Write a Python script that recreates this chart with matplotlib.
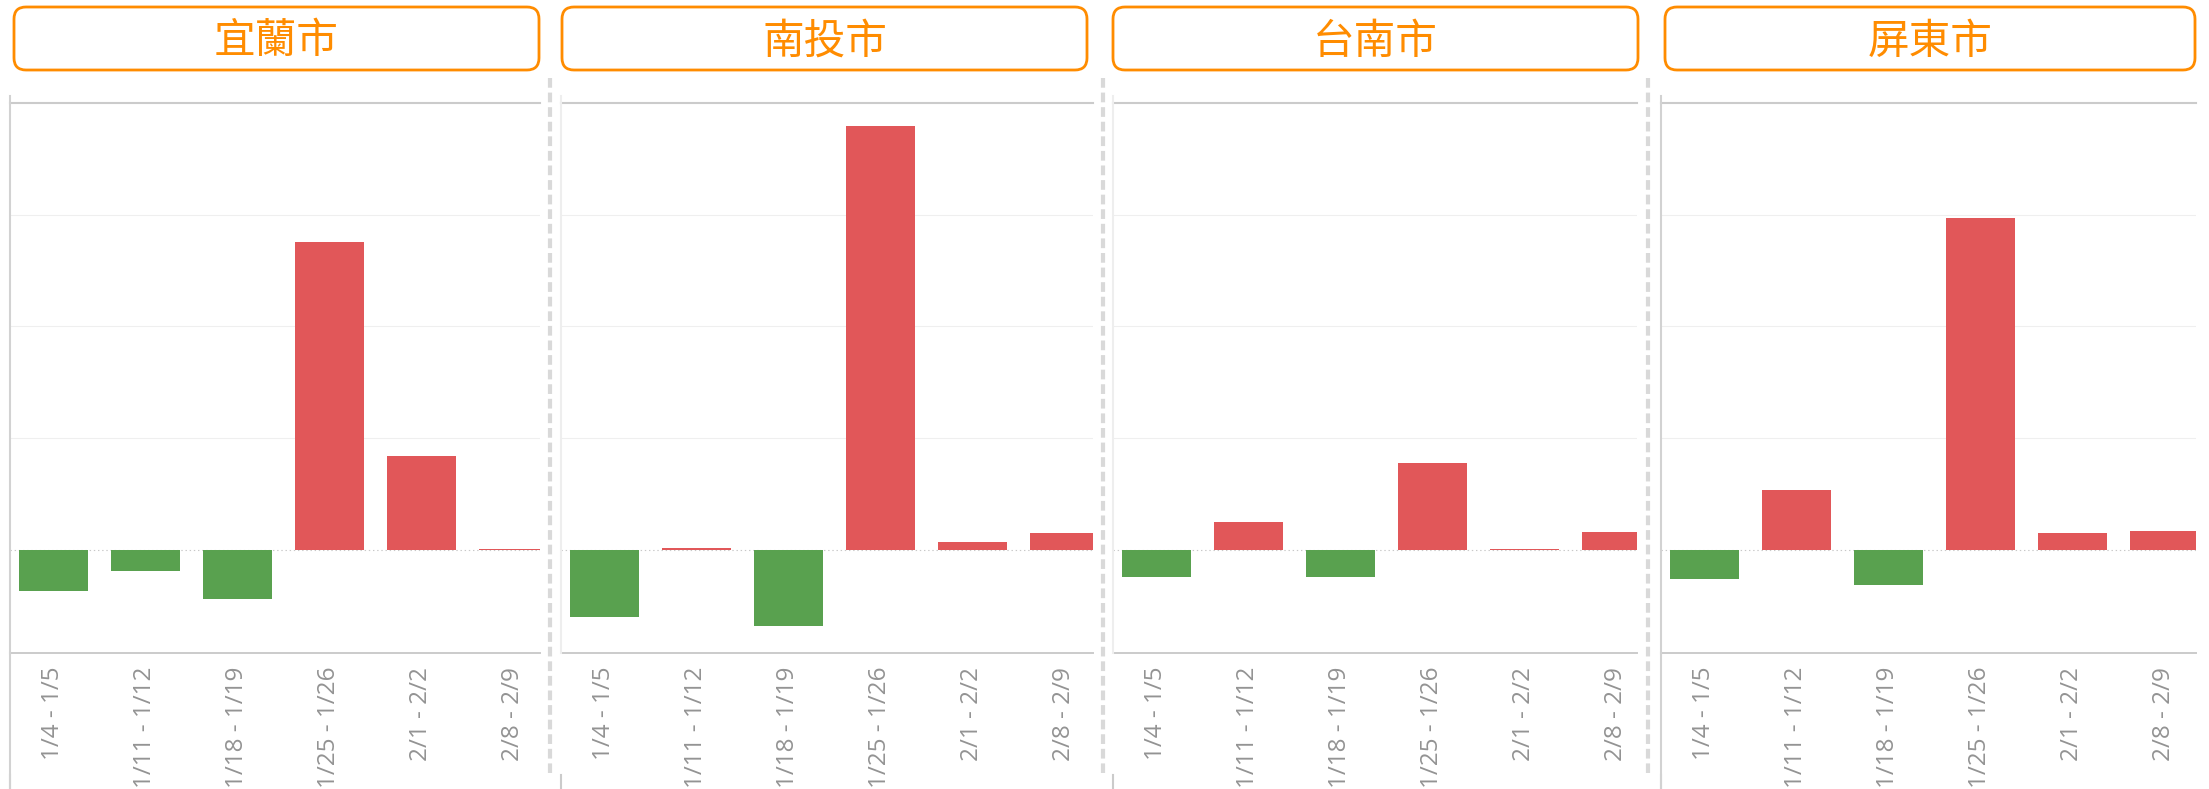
import matplotlib
matplotlib.use("Agg")
import matplotlib.pyplot as plt
from matplotlib.patches import FancyBboxPatch
from matplotlib.lines import Line2D
from matplotlib.transforms import IdentityTransform

# data (values in gridline units)
cities = ["宜蘭市", "南投市", "台南市", "屏東市"]
weeks = ["1/4 - 1/5", "1/11 - 1/12", "1/18 - 1/19", "1/25 - 1/26", "2/1 - 2/2", "2/8 - 2/9"]
yilan = [-0.37, -0.19, -0.44, 2.76, 0.84, 0.01]
nantou = [-0.60, 0.02, -0.68, 3.79, 0.075, 0.15]
tainan = [-0.24, 0.25, -0.24, 0.78, 0.01, 0.16]
pingtung = [-0.26, 0.54, -0.31, 2.97, 0.15, 0.17]
series = [yilan, nantou, tainan, pingtung]

RED = "#E15759"
GREEN = "#59A14F"
ORANGE = "#FF8C00"

plt.rcParams["lines.scale_dashes"] = False

W, H = 2209, 789
fig = plt.figure(figsize=(W / 100, H / 100), dpi=100)

# layout in pixels
panel_px = [(10, 540), (561, 1093), (1113, 1637), (1661, 2196)]
box_px = [(14, 539), (562, 1087), (1113, 1638), (1665, 2195)]
sep_px = [550, 1103, 1648]
top_px, bot_px = 103, 653
bar_step = 92.0

for i, (x0, x1) in enumerate(panel_px):
    ax = fig.add_axes([x0 / W, (H - bot_px) / H, (x1 - x0) / W, (bot_px - top_px) / H])
    vals = series[i]
    colors = [RED if v >= 0 else GREEN for v in vals]
    ax.axhline(0, color="#c8c8c8", lw=0.8, ls=(0, (1, 2)), zorder=1)
    ax.bar(range(len(weeks)), vals, width=0.75, color=colors, zorder=2)
    ax.set_xlim(-0.47, -0.47 + (x1 - x0) / bar_step)
    ax.set_ylim(-0.922, 4)

    ax.set_yticks([1, 2, 3])
    ax.yaxis.grid(True, color="#efefef", lw=0.8)
    ax.set_axisbelow(True)
    ax.tick_params(axis="y", length=0, labelleft=False)

    ax.set_xticks(range(len(weeks)))
    ax.set_xticklabels(weeks, rotation=90, ha="center", va="top",
                       family="Open Sans", fontsize=17.5, color="#939393")
    ax.tick_params(axis="x", length=0, pad=10)

    for s in ["left", "right"]:
        ax.spines[s].set_visible(False)
    ax.spines["top"].set_color("#cbcbcb")
    ax.spines["top"].set_linewidth(1.5)
    ax.spines["bottom"].set_color("#cbcbcb")
    ax.spines["bottom"].set_linewidth(1.4)

    # left edge line
    spine_col = "#d2d2d2" if i in (0, 3) else "#eeeeee"
    fig.add_artist(Line2D([x0 / W, x0 / W], [(H - 96) / H, (H - bot_px) / H],
                          transform=fig.transFigure, color=spine_col, lw=1.5))
    fig.add_artist(Line2D([x0 / W, x0 / W], [(H - 775) / H, 0],
                          transform=fig.transFigure, color="#cbcbcb", lw=1.5))
    if i in (0, 3):
        fig.add_artist(Line2D([x0 / W, x0 / W], [(H - bot_px) / H, 0],
                              transform=fig.transFigure, color=spine_col, lw=1.5))

    # title box
    bx0, bx1 = box_px[i]
    box = FancyBboxPatch((bx0, H - 70), bx1 - bx0, 63,
                         boxstyle="round,pad=0,rounding_size=12",
                         transform=IdentityTransform(), fc="white", ec=ORANGE, lw=2)
    fig.add_artist(box)
    fig.text((bx0 + bx1) / 2 / W, (H - 42) / H, cities[i], ha="center", va="center",
             fontsize=30, fontweight="light", color=ORANGE,
             family=["Noto Sans CJK TC", "DejaVu Sans"])

# dashed separators
for x in sep_px:
    fig.add_artist(Line2D([x / W, x / W], [(H - 78) / H, (H - 773) / H],
                          transform=fig.transFigure, color="#d9d9d9", lw=3,
                          dashes=(7, 3.5)))

fig.savefig("out.png", dpi=100)
